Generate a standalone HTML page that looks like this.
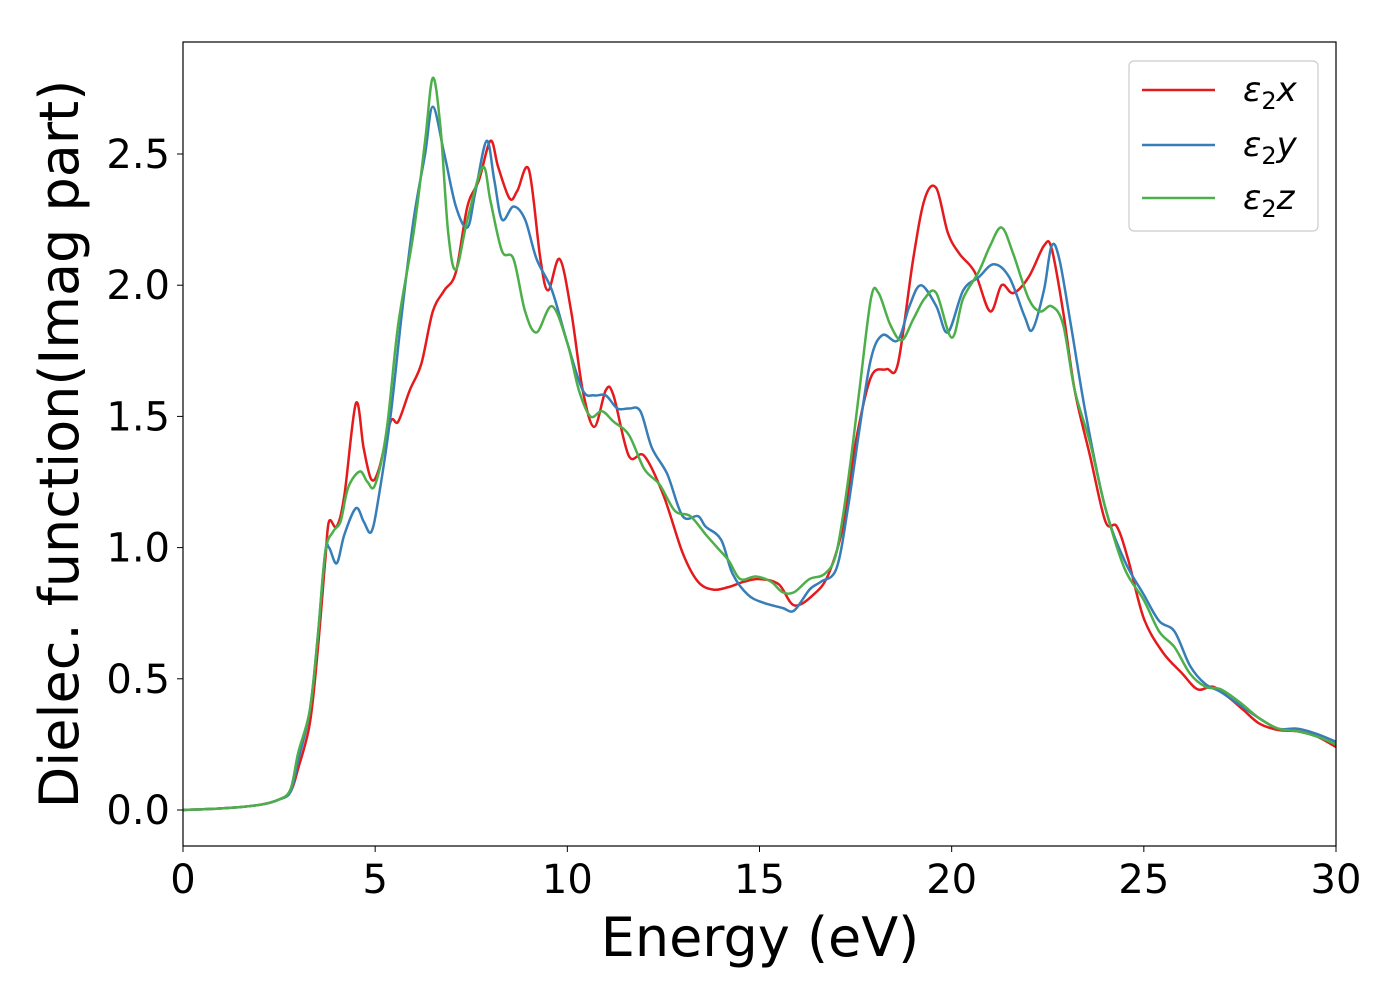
<!DOCTYPE html>
<html><head><meta charset="utf-8"><style>
body{margin:0;background:#fff;}
svg{display:block;font-family:"DejaVu Sans","Liberation Sans",sans-serif;}
</style></head><body>
<svg id="chart" width="1400" height="1000" viewBox="0 0 1400 1000">
<rect x="0" y="0" width="1400" height="1000" fill="#fff"/>
<g id="lines"></g>
<rect x="183" y="42" width="1153" height="804" fill="none" stroke="#000" stroke-width="1.2"/>
<g id="ticks"></g>
<text x="760" y="956" font-size="54" text-anchor="middle">Energy (eV)</text>
<text transform="translate(78,444) rotate(-90)" font-size="54" text-anchor="middle">Dielec. function(Imag part)</text>
<g>
<rect x="1129" y="61" width="189" height="170" rx="5" fill="#fff" stroke="#ccc" stroke-width="1.2"/>
<line x1="1142" y1="90" x2="1215" y2="90" stroke="#e41a1c" stroke-width="2.5"/>
<line x1="1142" y1="145" x2="1215" y2="145" stroke="#377eb8" stroke-width="2.5"/>
<line x1="1142" y1="198" x2="1215" y2="198" stroke="#4daf4a" stroke-width="2.5"/>
<text x="1243" y="101" font-size="34" font-style="italic">ε<tspan font-style="normal" font-size="24" dy="8">2</tspan><tspan dy="-8">x</tspan></text>
<text x="1243" y="156" font-size="34" font-style="italic">ε<tspan font-style="normal" font-size="24" dy="8">2</tspan><tspan dy="-8">y</tspan></text>
<text x="1243" y="209" font-size="34" font-style="italic">ε<tspan font-style="normal" font-size="24" dy="8">2</tspan><tspan dy="-8">z</tspan></text>
</g>
</svg>
<script>
const xTicks=[0,5,10,15,20,25,30];
const yTicks=[0.0,0.5,1.0,1.5,2.0,2.5];
const yTickLabels=["0.0","0.5","1.0","1.5","2.0","2.5"];
const xE=[0,1,2,2.5,2.8,3.0,3.3,3.5,3.7,3.8,4.0,4.2,4.5,4.7,4.9,5.1,5.4,5.6,5.9,6.2,6.5,6.8,7.1,7.4,7.7,8.0,8.2,8.5,8.7,9.0,9.3,9.5,9.8,10.1,10.4,10.7,11.0,11.2,11.6,12.0,12.5,13.0,13.4,13.8,14.2,14.6,15.0,15.5,15.9,16.4,16.8,17.2,17.5,17.9,18.3,18.6,19.0,19.3,19.6,19.9,20.2,20.6,21.0,21.3,21.6,22.0,22.4,22.6,22.9,23.2,23.6,24.0,24.3,24.6,25.0,25.5,26.0,26.4,26.8,27.2,27.6,28.0,28.5,29.0,29.5,30];
const xV=[0,0.006,0.02,0.04,0.07,0.16,0.33,0.6,0.95,1.1,1.08,1.2,1.55,1.38,1.26,1.3,1.48,1.48,1.6,1.7,1.9,1.98,2.05,2.3,2.4,2.55,2.45,2.33,2.36,2.44,2.1,1.98,2.1,1.9,1.6,1.46,1.6,1.58,1.35,1.35,1.2,0.98,0.87,0.84,0.85,0.87,0.88,0.86,0.78,0.82,0.9,1.1,1.4,1.65,1.68,1.7,2.1,2.33,2.37,2.2,2.12,2.05,1.9,2.0,1.97,2.03,2.15,2.14,1.9,1.6,1.35,1.1,1.08,0.95,0.73,0.6,0.52,0.46,0.47,0.43,0.38,0.33,0.305,0.3,0.28,0.24];
const yE=[0,1,2,2.5,2.8,3.0,3.3,3.5,3.7,3.8,4.0,4.2,4.5,4.7,4.9,5.1,5.4,5.7,6.0,6.3,6.5,6.8,7.1,7.4,7.6,7.9,8.1,8.3,8.6,8.9,9.2,9.6,10.0,10.4,10.7,11.0,11.3,11.6,11.9,12.2,12.6,13.0,13.4,13.6,14.0,14.3,14.7,15.1,15.6,15.9,16.3,16.6,17.0,17.3,17.6,17.9,18.2,18.6,18.9,19.2,19.6,19.9,20.3,20.7,21.1,21.5,21.9,22.1,22.4,22.6,22.8,23.1,23.5,24.0,24.5,25.0,25.4,25.8,26.2,26.6,27.0,27.5,28.0,28.5,29.0,29.5,30];
const yV=[0,0.006,0.02,0.04,0.07,0.19,0.38,0.65,0.98,1.0,0.94,1.05,1.15,1.1,1.06,1.2,1.5,1.9,2.25,2.5,2.68,2.5,2.3,2.22,2.35,2.55,2.4,2.25,2.3,2.25,2.1,1.98,1.78,1.6,1.58,1.58,1.53,1.53,1.52,1.38,1.28,1.12,1.12,1.08,1.03,0.9,0.82,0.79,0.77,0.76,0.84,0.87,0.92,1.15,1.45,1.72,1.81,1.79,1.92,2.0,1.92,1.82,1.98,2.03,2.08,2.03,1.88,1.83,1.98,2.15,2.1,1.85,1.5,1.15,0.95,0.82,0.72,0.68,0.55,0.48,0.45,0.4,0.35,0.31,0.31,0.29,0.26];
const zE=[0,1,2,2.5,2.8,3.0,3.3,3.5,3.7,3.9,4.1,4.3,4.6,4.8,5.0,5.3,5.6,6.0,6.3,6.5,6.7,6.9,7.1,7.4,7.8,8.0,8.3,8.6,8.9,9.2,9.6,10.0,10.3,10.6,10.9,11.2,11.6,12.0,12.4,12.8,13.2,13.6,13.9,14.2,14.5,14.9,15.3,15.6,15.9,16.3,16.7,17.0,17.3,17.6,17.9,18.1,18.4,18.7,19.0,19.3,19.6,20.0,20.3,20.7,21.0,21.3,21.6,22.0,22.3,22.6,22.9,23.2,23.6,24.0,24.5,25.0,25.4,25.8,26.2,26.6,27.0,27.5,28.0,28.5,29.0,29.5,30];
const zV=[0,0.006,0.02,0.04,0.08,0.22,0.38,0.65,0.98,1.06,1.1,1.23,1.29,1.25,1.24,1.45,1.85,2.2,2.55,2.79,2.6,2.2,2.06,2.25,2.45,2.32,2.13,2.1,1.9,1.82,1.92,1.78,1.6,1.5,1.52,1.48,1.43,1.3,1.24,1.14,1.12,1.05,1.0,0.95,0.88,0.89,0.87,0.83,0.83,0.88,0.9,0.98,1.25,1.6,1.95,1.97,1.85,1.79,1.87,1.95,1.97,1.8,1.95,2.05,2.15,2.22,2.12,1.95,1.9,1.92,1.85,1.6,1.4,1.15,0.92,0.8,0.68,0.62,0.52,0.47,0.46,0.41,0.35,0.31,0.3,0.28,0.25];
const NS="http://www.w3.org/2000/svg";
const sx=v=>183+v*(1153/30);
const sy=v=>810-v*262.4;
function pathD(E,V){
  const p=E.map((e,i)=>[sx(e),sy(V[i])]);
  let d="M"+p[0][0].toFixed(1)+","+p[0][1].toFixed(1);
  for(let i=0;i<p.length-1;i++){
    const p0=p[Math.max(0,i-1)],p1=p[i],p2=p[i+1],p3=p[Math.min(p.length-1,i+2)];
    const c1=[p1[0]+(p2[0]-p0[0])/6,p1[1]+(p2[1]-p0[1])/6];
    const c2=[p2[0]-(p3[0]-p1[0])/6,p2[1]-(p3[1]-p1[1])/6];
    d+=`C${c1[0].toFixed(1)},${c1[1].toFixed(1)} ${c2[0].toFixed(1)},${c2[1].toFixed(1)} ${p2[0].toFixed(1)},${p2[1].toFixed(1)}`;
  }
  return d;
}
const lines=document.getElementById('lines');
[[xE,xV,'#e41a1c','line-eps2x'],[yE,yV,'#377eb8','line-eps2y'],[zE,zV,'#4daf4a','line-eps2z']].forEach(s=>{
  const el=document.createElementNS(NS,'path');
  el.setAttribute('d',pathD(s[0],s[1]));
  el.setAttribute('fill','none');el.setAttribute('stroke',s[2]);el.setAttribute('stroke-width','2.5');
  
  
  lines.appendChild(el);
});
const tg=document.getElementById('ticks');
xTicks.forEach(t=>{
  const l=document.createElementNS(NS,'line');
  l.setAttribute('x1',sx(t));l.setAttribute('x2',sx(t));l.setAttribute('y1',846);l.setAttribute('y2',852);l.setAttribute('stroke','#000');
  
  
  tg.appendChild(l);
  const tx=document.createElementNS(NS,'text');
  tx.setAttribute('x',sx(t));tx.setAttribute('y',893);tx.setAttribute('font-size','40');tx.setAttribute('text-anchor','middle');
  tx.textContent=String(t);
  
  
  tg.appendChild(tx);
});
yTicks.forEach((t,i)=>{
  const l=document.createElementNS(NS,'line');
  l.setAttribute('x1',177);l.setAttribute('x2',183);l.setAttribute('y1',sy(t));l.setAttribute('y2',sy(t));l.setAttribute('stroke','#000');
  
  
  tg.appendChild(l);
  const tx=document.createElementNS(NS,'text');
  tx.setAttribute('x',170);tx.setAttribute('y',sy(t)+14);tx.setAttribute('font-size','40');tx.setAttribute('text-anchor','end');
  tx.textContent=yTickLabels[i];
  
  
  tg.appendChild(tx);
});
</script>
</body></html>
